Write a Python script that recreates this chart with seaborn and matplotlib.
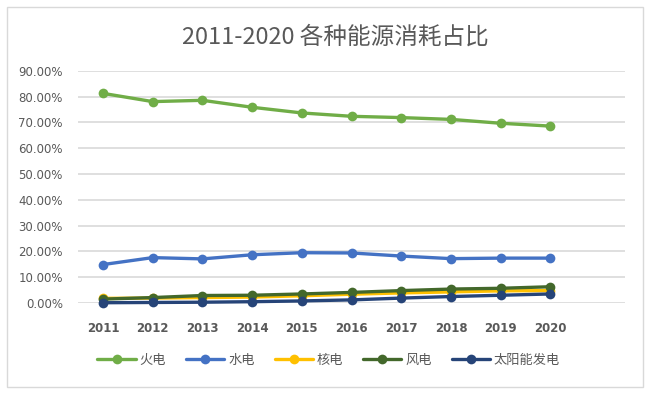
import matplotlib
matplotlib.use("Agg")
import matplotlib.pyplot as plt
from matplotlib.patches import Rectangle
import pandas as pd
import seaborn as sns

# data (share of total consumption, %)
years = [2011, 2012, 2013, 2014, 2015, 2016, 2017, 2018, 2019, 2020]
fire = [81.3, 78.1, 78.6, 75.9, 73.7, 72.4, 71.9, 71.2, 69.7, 68.6]
hydro = [14.9, 17.6, 17.1, 18.7, 19.5, 19.4, 18.2, 17.2, 17.4, 17.4]
nuclear = [1.8, 1.9, 2.1, 2.3, 2.8, 3.4, 3.9, 4.3, 4.7, 4.8]
wind = [1.5, 2.1, 2.9, 3.0, 3.5, 4.1, 4.8, 5.4, 5.7, 6.3]
solar = [0.1, 0.2, 0.3, 0.5, 0.8, 1.2, 1.9, 2.5, 3.0, 3.5]
names = ["火电", "水电", "核电", "风电", "太阳能发电"]
colors = ["#70AD47", "#4472C4", "#FFC000", "#43682B", "#264478"]

rows = []
for name, vals in zip(names, [fire, hydro, nuclear, wind, solar]):
    for y, v in zip(years, vals):
        rows.append({"year": y, "share": v, "source": name})
df = pd.DataFrame(rows)

sns.set_style("white")
plt.rcParams['font.family'] = ['Noto Sans CJK SC', 'DejaVu Sans']

fig = plt.figure(figsize=(6.51, 3.94), dpi=100)
ax = fig.add_axes([0.12, 0.231, 0.84, 0.589])

sns.lineplot(data=df, x="year", y="share", hue="source", hue_order=names,
             palette=colors, marker="o", markersize=7, markeredgewidth=0,
             linewidth=2.4, ax=ax, clip_on=False, zorder=3)

ax.set_xlim(2010.5, 2021.5)
ax.set_ylim(0, 90)
ax.set_yticks(range(0, 91, 10))
ax.set_yticklabels([f"{v:.2f}%" for v in range(0, 91, 10)],
                   fontsize=8.5, color="#595959", family="DejaVu Sans")
ax.set_xticks(years)
ax.set_xticklabels([str(y) for y in years], fontsize=8.5, color="#595959",
                   family="DejaVu Sans", fontweight="bold")
ax.tick_params(axis="y", length=0, pad=11)
ax.tick_params(axis="x", length=0, pad=14)
ax.grid(axis="y", color="#D9D9D9", linewidth=1.2)
ax.set_axisbelow(True)
for s in ax.spines.values():
    s.set_visible(False)
ax.set_xlabel("")
ax.set_ylabel("")

ax.legend(loc="center", bbox_to_anchor=(0.505, 0.086), bbox_transform=fig.transFigure,
          ncol=5, frameon=False, handlelength=2.9, columnspacing=1.5,
          handletextpad=0.3, prop={"size": 9.5}, labelcolor="#595959")

fig.text(0.515, 0.905, "2011-2020 各种能源消耗占比", ha="center", va="center",
         fontsize=17, color="#595959", fontweight="light")

fig.patches.append(Rectangle((7 / 651, 7 / 394), 636 / 651, 380 / 394,
                             transform=fig.transFigure, fill=False,
                             edgecolor="#D9D9D9", linewidth=1))

fig.savefig("out.png", dpi=100)
